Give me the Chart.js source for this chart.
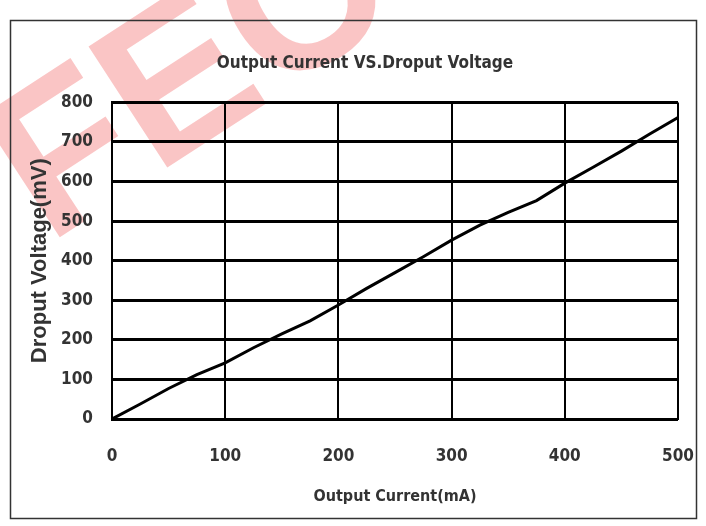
<!DOCTYPE html>
<html>
<head>
<meta charset="utf-8">
<script src="https://cdn.jsdelivr.net/npm/chart.js@4/dist/chart.umd.min.js"></script>
<style>
  html, body { margin: 0; padding: 0; background: #fff; }
  #wrap { width: 706px; height: 526px; }
</style>
</head>
<body>
<div id="wrap"><canvas id="dropout-chart"></canvas></div>
<script>
// values
var currentMa = [0, 25, 50, 75, 100, 125, 150, 175, 200, 225, 250, 275, 300, 325, 350, 375, 400, 425, 450, 475, 500];
var dropoutMv = [0, 38, 77, 112, 142, 180, 215, 248, 288, 330, 370, 410, 452, 490, 522, 552, 596, 636, 677, 720, 762];

var xTicks = [0, 100, 200, 300, 400, 500];
var yTicks = [0, 100, 200, 300, 400, 500, 600, 700, 800];

var narrow = "'Liberation Sans Narrow', 'DejaVu Sans Condensed', 'Arial Narrow', sans-serif";

// page frame + watermark, drawn before the chart
var framePlugin = {
    id: 'frame',
    beforeDraw: function(chart) {
        var ctx = chart.ctx;
        ctx.save();
        ctx.fillStyle = '#fff';
        ctx.fillRect(0, 0, chart.width, chart.height);
        ctx.translate(48, 245);
        ctx.rotate(-33 * Math.PI / 180);
        ctx.fillStyle = 'rgba(240, 90, 90, 0.35)';
        ctx.font = "bold 210px 'Liberation Sans', sans-serif";
        ctx.fillText('FEC', 0, 0);
        ctx.restore();
    },
    afterDraw: function(chart) {
        var ctx = chart.ctx;
        ctx.save();
        ctx.strokeStyle = '#333';
        ctx.lineWidth = 1.5;
        ctx.strokeRect(10.5, 20.5, 686, 498);
        ctx.restore();
    }
};

function dropoutDisplay() {
    var points = currentMa.map(function(c, i) { return { x: c, y: dropoutMv[i] }; });

    new Chart(document.getElementById('dropout-chart'), {
        type: 'line',
        data: {
            datasets: [{
                data: points,
                borderColor: '#000',
                borderWidth: 3,
                pointRadius: 0,
                tension: 0,
                fill: false
            }]
        },
        options: {
            responsive: true,
            maintainAspectRatio: false,
            animation: false,
            layout: {
                padding: { top: 20, left: 52, right: 28, bottom: 10 }
            },
            plugins: {
                legend: { display: false },
                tooltip: { enabled: false },
                title: {
                    display: true,
                    text: 'Output Current VS.Droput Voltage',
                    color: '#333',
                    font: { family: narrow, size: 17, weight: 'bold', lineHeight: 1.2 },
                    padding: { top: 33, bottom: 29 }
                }
            },
            scales: {
                x: {
                    type: 'linear',
                    min: 0,
                    max: 500,
                    afterBuildTicks: function(axis) {
                        axis.ticks = xTicks.map(function(v) { return { value: v }; });
                    },
                    afterFit: function(axis) {
                        axis.height = 97;
                        axis.paddingLeft = 0;
                        axis.paddingRight = 0;
                    },
                    grid: { color: '#000', lineWidth: 2, drawTicks: false },
                    border: { display: true, color: '#000', width: 2 },
                    ticks: {
                        color: '#333',
                        padding: 27,
                        maxRotation: 0,
                        font: { family: narrow, size: 17, weight: 'bold' }
                    },
                    title: {
                        display: true,
                        text: 'Output Current(mA)',
                        color: '#333',
                        padding: { top: 0, bottom: 10 },
                        font: { family: narrow, size: 16, weight: 'bold' }
                    }
                },
                y: {
                    type: 'linear',
                    min: 0,
                    max: 800,
                    afterBuildTicks: function(axis) {
                        axis.ticks = yTicks.map(function(v) { return { value: v }; });
                    },
                    afterFit: function(axis) { axis.width = 60; },
                    grid: { color: '#000', lineWidth: 3, drawTicks: false },
                    border: { display: true, color: '#000', width: 2 },
                    ticks: {
                        color: '#333',
                        padding: 19,
                        font: { family: narrow, size: 17, weight: 'bold' }
                    },
                    title: {
                        display: true,
                        text: 'Droput Voltage(mV)',
                        color: '#333',
                        padding: { top: -25, bottom: 0 },
                        font: { family: "'Liberation Sans', Arial, sans-serif", size: 22, weight: 'bold' }
                    }
                }
            }
        },
        plugins: [framePlugin]
    });
}

dropoutDisplay();
</script>
</body>
</html>
